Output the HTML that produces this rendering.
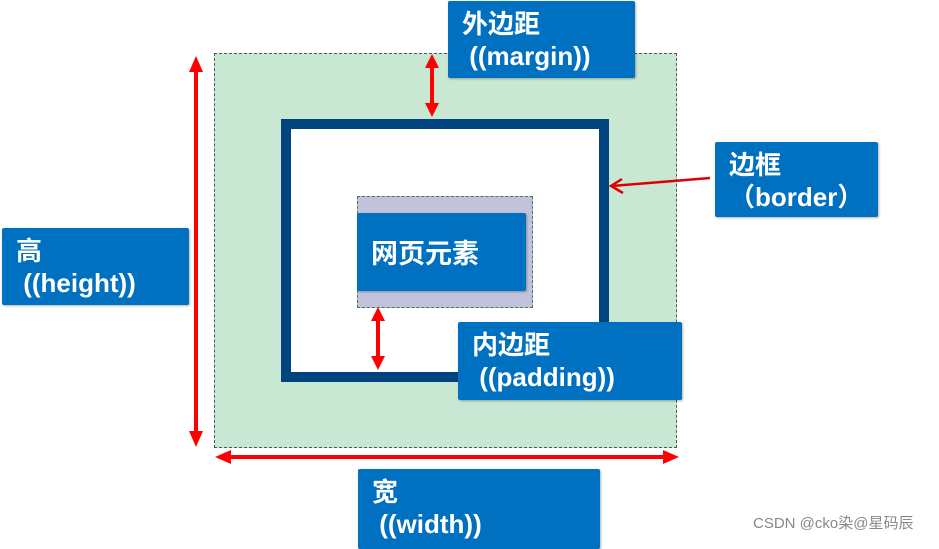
<!DOCTYPE html>
<html><head><meta charset="utf-8"><style>
body{margin:0;width:939px;height:542px;background:#fff;position:relative;overflow:hidden;font-family:"Liberation Sans","Noto Sans CJK SC",sans-serif;}
.a{position:absolute;box-sizing:border-box;}
.lbl{background:#0070c0;color:#fff;font-weight:bold;font-size:26px;line-height:32px;padding:7px 0 0 14px;border-radius:2px;box-shadow:1px 1px 2px rgba(0,0,0,.3);}
</style></head><body>
<div class="a" style="left:214px;top:53px;width:463px;height:395px;background:#c9e8d4;border:1.5px dashed #555;"></div>
<div class="a" style="left:281px;top:119px;width:328px;height:263px;background:#fff;border:10px solid #00437f;"></div>
<div class="a" style="left:357px;top:196px;width:176px;height:112px;background:#c2c2dc;border:1.5px dashed #4a7a4a;"></div>
<div class="a lbl" style="left:357px;top:213px;width:169px;height:78px;padding:25px 0 0 14px;font-size:27px;">网页元素</div>
<div class="a lbl" style="left:448px;top:1px;width:187px;height:77px;">外边距<br>&nbsp;((margin))</div>
<div class="a lbl" style="left:715px;top:142px;width:163px;height:75px;">边框<br>（border）</div>
<div class="a lbl" style="left:2px;top:228px;width:187px;height:77px;">高<br>&nbsp;((height))</div>
<div class="a lbl" style="left:458px;top:322px;width:224px;height:78px;">内边距<br>&nbsp;((padding))</div>
<div class="a lbl" style="left:358px;top:469px;width:242px;height:80px;">宽<br>&nbsp;((width))</div>
<svg class="a" style="left:0;top:0" width="939" height="542">
<g stroke="#f00" stroke-width="4" fill="#f00">
<line x1="196" y1="70" x2="196" y2="432"/>
<polygon points="196,56 189,72 203,72" stroke="none"/><polygon points="196,447 189,431 203,431" stroke="none"/>
<line x1="230" y1="457" x2="664" y2="457"/>
<polygon points="215,457 231,450 231,464" stroke="none"/><polygon points="679,457 663,450 663,464" stroke="none"/>
<line x1="432" y1="66" x2="432" y2="106"/>
<polygon points="432,54 425,68 439,68" stroke="none"/><polygon points="432,117 425,103 439,103" stroke="none"/>
<line x1="378" y1="318" x2="378" y2="358"/>
<polygon points="378,307 371,321 385,321" stroke="none"/><polygon points="378,370 371,356 385,356" stroke="none"/>
</g>
<g stroke="#d00" stroke-width="2.5" fill="none">
<line x1="710" y1="178" x2="612" y2="186"/>
<polyline points="622,179 611,186 623,193"/>
</g>
<text x="753" y="528" font-family="Liberation Sans, Noto Sans CJK SC, sans-serif" font-size="15" fill="#888">CSDN @cko染@星码辰</text>
</svg>
</body></html>
